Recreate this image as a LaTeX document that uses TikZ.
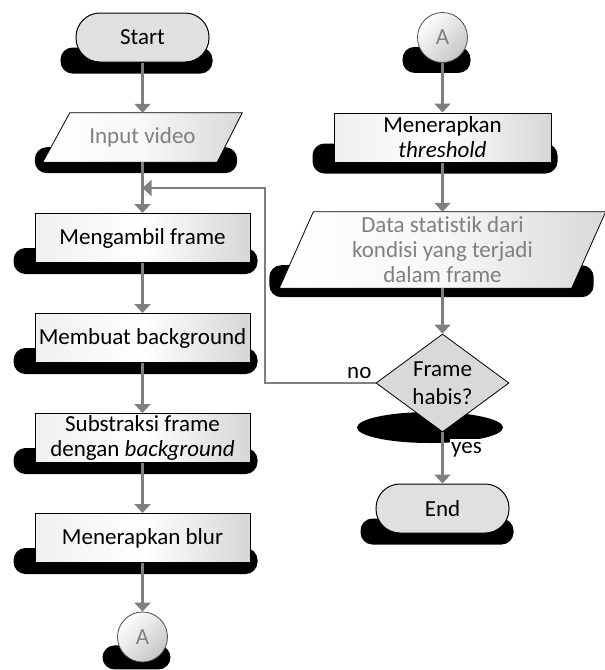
\documentclass[tikz,border=0pt]{standalone}
\usepackage{fontspec}
\setmainfont{Carlito}[Ligatures=NoCommon]
\usetikzlibrary{shapes.geometric,arrows.meta,calc}
\pgfdeclarelayer{sh}
\pgfdeclarelayer{bg}
\pgfsetlayers{sh,bg,main}
\definecolor{linegray}{HTML}{7F7F7F}
\definecolor{termfill}{HTML}{E0E0E0}
\definecolor{diafill}{HTML}{D9D9D9}
\definecolor{textgray}{HTML}{808080}
\begin{document}
\begin{tikzpicture}[x=1pt,y=-1pt,
  base/.style={font=\fontsize{23}{25}\selectfont, align=center},
  term/.style={base, draw=black, line width=1pt, fill=termfill, rounded corners=24pt, minimum width=133pt, minimum height=49pt, inner sep=0pt},
  procbox/.style={base, draw=black, line width=1pt, left color=gray!12, right color=gray!32, middle color=white, minimum width=215pt, minimum height=49pt, inner xsep=2pt, inner ysep=0pt},
  iotext/.style={base, text=textgray, inner sep=0pt},
  iofill/.style={draw=black, line width=0.8pt, left color=white, right color=gray!30, middle color=gray!6},
  connector/.style={base, text=textgray, circle, draw=gray!60!black, line width=0.8pt, top color=white, bottom color=gray!45, shading angle=45, minimum size=50pt, inner sep=0pt},
  decision/.style={base, diamond, draw=black, line width=0.8pt, fill=diafill, minimum width=133pt, minimum height=98pt, inner sep=0pt, aspect=1.36},
  arr/.style={draw=linegray, line width=2.2pt, -{Triangle[width=16pt,length=9pt]}},
  blob/.style={fill=black, rounded corners=12pt},
  lbl/.style={base, inner sep=1pt}
]
\useasboundingbox (0,0) rectangle (605,670);

% left column
\node[term] (start) at (142.5,37.5) {Start};
\node[iotext, minimum width=199pt, minimum height=49pt] (inp) at (142.5,137.5) {Input video};
\node[procbox] (f1) at (142.5,238) {Mengambil frame};
\node[procbox] (f2) at (142.5,338) {Membuat background};
\node[procbox] (f3) at (142.5,438) {Substraksi frame\\dengan \textit{background}};
\node[procbox] (f4) at (142.5,538) {Menerapkan blur};
\node[connector] (cb) at (142.5,637) {A};

% right column
\node[connector] (ca) at (442.5,37.5) {A};
\node[procbox, minimum width=217pt] (thr) at (442.5,137.5) {Menerapkan\\\textit{threshold}};
\node[iotext, minimum width=326pt, minimum height=76pt] (data) at (442.5,250) {Data statistik dari\\kondisi yang terjadi\\dalam frame};
\node[decision] (dia) at (442.5,383) {Frame\\[3pt]habis?};
\node[term] (end) at (442.5,508.5) {End};

% labels
\node[lbl, anchor=base east] (no) at ($(dia.west)+(-3,-5)$) {no};
\node[lbl, anchor=base west, fill=white, inner ysep=3pt] (yes) at (450,453) {yes};

% coordinates of the feedback loop
\coordinate (join) at (142.5,188);
\coordinate (fbtop) at (265,188);

% parallelograms
\begin{pgfonlayer}{bg}
\path[iofill] (inp.south west) -- ($(inp.north west)+(27,0)$) -- (inp.north east) -- ($(inp.south east)+(-25,0)$) -- cycle;
\path[iofill] (data.south west) -- ($(data.north west)+(34,0)$) -- (data.north east) -- ($(data.south east)+(-34,0)$) -- cycle;
\end{pgfonlayer}

% shadows
\begin{pgfonlayer}{sh}
\fill[blob] ($(start.south west)+(-15,-15)$) rectangle ($(start.south east)+(3,11)$);
\fill[blob] ($(end.south west)+(-15,-15)$) rectangle ($(end.south east)+(4,11)$);
\fill[blob] ($(inp.south west)+(-8,-15)$) rectangle ($(inp.south east)+(-5,11)$);
\fill[blob] ($(data.south west)+(-10,-23)$) rectangle ($(data.south east)+(-12,9)$);
\foreach \n in {f1,f2,f3,f4}{
  \fill[blob] ($(\n.south west)+(-21,-15)$) rectangle ($(\n.south east)+(7,11)$);
}
\fill[blob] ($(thr.south west)+(-21,-19)$) rectangle ($(thr.south east)+(6,11)$);
\fill[blob] ($(cb.south)+(-40,-17)$) rectangle ($(cb.south)+(28,7)$);
\fill[blob] ($(ca.south)+(-40,-16)$) rectangle ($(ca.south)+(28,10)$);
\fill[black] (430,427.5) ellipse [x radius=73, y radius=15.5];
\end{pgfonlayer}

% connectors
\draw[arr] (start) -- (inp);
\draw[arr] (inp) -- (f1);
\draw[arr] (f1) -- (f2);
\draw[arr] (f2) -- (f3);
\draw[arr] (f3) -- (f4);
\draw[arr] (f4) -- (cb);
\draw[arr] (ca) -- (thr);
\draw[arr] (thr) -- (data);
\draw[arr] (data) -- (dia);
\draw[arr] (dia) -- (end);
\draw[arr, line width=1.8pt] (dia.west) -| (fbtop) -- (join);
\end{tikzpicture}
\end{document}
